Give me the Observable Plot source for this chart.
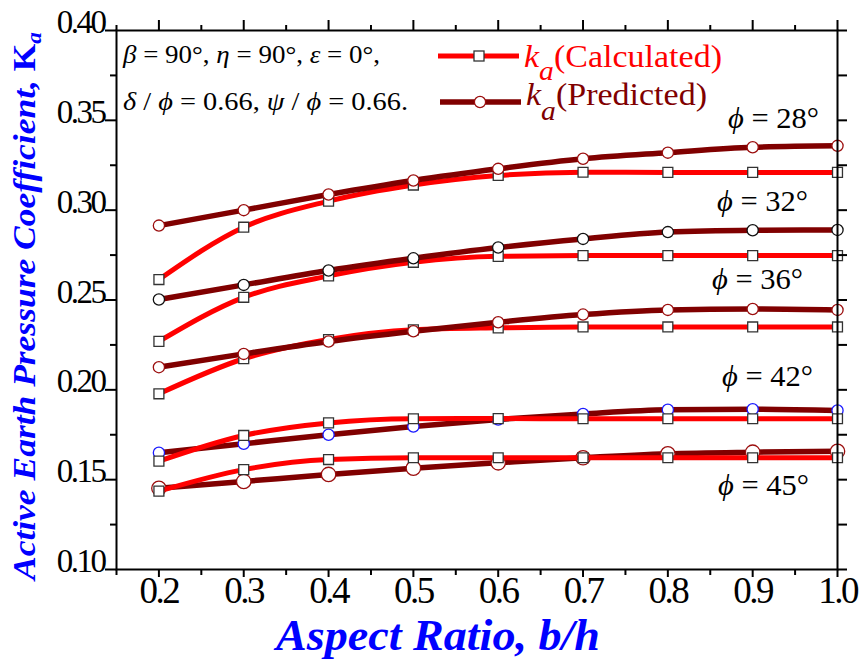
<!DOCTYPE html>
<html>
<head>
<meta charset="utf-8">
<script src="https://cdn.jsdelivr.net/npm/d3@7"></script>
<script src="https://cdn.jsdelivr.net/npm/@observablehq/plot@0.6"></script>
<style>
  html, body { margin: 0; padding: 0; background: #fff; }
  #wrap { position: relative; width: 861px; height: 668px; }
  #wrap > svg { position: absolute; left: 0; top: 0; }
  #overlay { pointer-events: none; }
</style>
</head>
<body>
<div id="wrap"></div>
<script>
// ---- data ----
const aspectRatio = [0.2, 0.3, 0.4, 0.5, 0.6, 0.7, 0.8, 0.9, 1.0];

const calc28 = [0.2614, 0.2905, 0.3050, 0.3140, 0.3193, 0.3211, 0.3210, 0.3210, 0.3210];
const pred28 = [0.2914, 0.3000, 0.3087, 0.3165, 0.3230, 0.3286, 0.3320, 0.3350, 0.3358];
const calc32 = [0.2270, 0.2515, 0.2634, 0.2710, 0.2743, 0.2747, 0.2747, 0.2747, 0.2747];
const pred32 = [0.2503, 0.2584, 0.2664, 0.2732, 0.2792, 0.2840, 0.2878, 0.2888, 0.2890];
const calc36 = [0.1978, 0.2173, 0.2280, 0.2334, 0.2345, 0.2350, 0.2350, 0.2350, 0.2350];
const pred36 = [0.2126, 0.2200, 0.2269, 0.2326, 0.2376, 0.2419, 0.2445, 0.2450, 0.2445];
const calc42 = [0.1603, 0.1746, 0.1816, 0.1839, 0.1840, 0.1839, 0.1839, 0.1839, 0.1839];
const pred42 = [0.1650, 0.1700, 0.1750, 0.1796, 0.1835, 0.1866, 0.1889, 0.1892, 0.1885];
const calc45 = [0.1436, 0.1556, 0.1612, 0.1622, 0.1622, 0.1622, 0.1622, 0.1622, 0.1622];
const pred45 = [0.1452, 0.1490, 0.1529, 0.1564, 0.1594, 0.1622, 0.1644, 0.1653, 0.1658];

const phiAngles = ["28", "32", "36", "42", "45"];

const xMajor = [0.2, 0.3, 0.4, 0.5, 0.6, 0.7, 0.8, 0.9, 1.0];
const xTickLabels = ["0.2", "0.3", "0.4", "0.5", "0.6", "0.7", "0.8", "0.9", "1.0"];
const xMinor = [0.15, 0.25, 0.35, 0.45, 0.55, 0.65, 0.75, 0.85, 0.95];
const yMajor = [0.10, 0.15, 0.20, 0.25, 0.30, 0.35, 0.40];
const yTickLabels = ["0.10", "0.15", "0.20", "0.25", "0.30", "0.35", "0.40"];
const yMinor = [0.125, 0.175, 0.225, 0.275, 0.325, 0.375];

const xTitle = "Aspect Ratio, b/h";
const yTitle = "Active Earth Pressure Coefficient, ";
const legendCalc = "(Calculated)";
const legendPred = "(Predicted)";

// ---- series (drawing order) ----
const RED = "#ff0000", DARK = "#800000";
const series = [
  {kind: "calc", values: calc28},
  {kind: "pred", values: pred28, ring: "#9b0d0d"},
  {kind: "calc", values: calc32},
  {kind: "pred", values: pred32, ring: "#111111"},
  {kind: "calc", values: calc36},
  {kind: "pred", values: pred36, ring: "#9b0d0d"},
  {kind: "pred", values: pred42, ring: "#1a1aff"},
  {kind: "calc", values: calc42},
  {kind: "pred", values: pred45, ring: "#9b0d0d", big: true},
  {kind: "calc", values: calc45}
];

const marks = [];
for (const s of series) {
  const rows = aspectRatio.map((x, i) => ({x, y: s.values[i]}));
  if (s.kind === "calc") {
    marks.push(Plot.line(rows, {x: "x", y: "y", stroke: RED, strokeWidth: 5, curve: "monotone-x"}));
    marks.push(Plot.dot(rows, {x: "x", y: "y", symbol: "square", r: 5.6, fill: "white", stroke: "#333", strokeWidth: 1.3}));
  } else {
    marks.push(Plot.line(rows, {x: "x", y: "y", stroke: DARK, strokeWidth: 5.5, curve: "monotone-x"}));
    marks.push(Plot.dot(rows, {x: "x", y: "y", symbol: "circle", r: s.big ? 7.2 : 5.6, fill: "white", stroke: s.ring, strokeWidth: 1.3}));
  }
}

const fontTick = "'Liberation Serif', 'Times New Roman', serif";

const chart = Plot.plot({
  width: 861,
  height: 668,
  marginLeft: 116,
  marginRight: 24,
  marginTop: 30,
  marginBottom: 99,
  x: {domain: [0.15, 1.0]},
  y: {domain: [0.10, 0.40]},
  style: {background: "white", color: "black"},
  marks: [
    ...marks,
    Plot.frame({stroke: "black", strokeWidth: 2}),
    // bottom
    Plot.axisX({ticks: xMajor, anchor: "bottom", tickSize: 8, strokeWidth: 2, fill: "none", label: null}),
    Plot.axisX({ticks: xMinor, anchor: "bottom", tickSize: 6, strokeWidth: 2, fill: "none", label: null}),
    Plot.axisX({ticks: xMajor, anchor: "bottom", tickSize: 0, tickPadding: 7, stroke: "none",
      tickFormat: d => xTickLabels[xMajor.indexOf(d)], fontSize: 37, fontFamily: fontTick, label: null}),
    // top
    Plot.axisX({ticks: xMajor, anchor: "top", tickSize: 11, strokeWidth: 2, fill: "none", label: null}),
    Plot.axisX({ticks: xMinor, anchor: "top", tickSize: 6, strokeWidth: 2, fill: "none", label: null}),
    // left
    Plot.axisY({ticks: yMajor, anchor: "left", tickSize: 11, strokeWidth: 2, fill: "none", label: null}),
    Plot.axisY({ticks: yMinor, anchor: "left", tickSize: 6, strokeWidth: 2, fill: "none", label: null}),
    Plot.axisY({ticks: yMajor, anchor: "left", tickSize: 0, tickPadding: 12, dy: -8, stroke: "none",
      tickFormat: d => yTickLabels[yMajor.indexOf(d)], fontSize: 33, fontFamily: fontTick, label: null}),
    // right
    Plot.axisY({ticks: yMajor, anchor: "right", tickSize: 9, strokeWidth: 2, fill: "none", label: null}),
    Plot.axisY({ticks: yMinor, anchor: "right", tickSize: 9, strokeWidth: 2, fill: "none", label: null})
  ]
});

document.getElementById("wrap").appendChild(chart);
chart.querySelectorAll('g[aria-label="x-axis tick label"], g[aria-label="y-axis tick label"]').forEach(g => {
  g.setAttribute("letter-spacing", "-2.5");
});

// ---- overlay text: titles, legend, annotations ----
const NS = "http://www.w3.org/2000/svg";
const ov = document.createElementNS(NS, "svg");
ov.setAttribute("id", "overlay");
ov.setAttribute("width", 861);
ov.setAttribute("height", 668);
ov.setAttribute("font-family", "'Liberation Serif', 'Times New Roman', serif");
document.getElementById("wrap").appendChild(ov);

function el(tag, attrs, parent = ov) {
  const e = document.createElementNS(NS, tag);
  for (const k in attrs) e.setAttribute(k, attrs[k]);
  parent.appendChild(e);
  return e;
}
function txt(s, attrs, parent = ov) {
  const e = el("text", attrs, parent);
  e.textContent = s;
  return e;
}
// parts: [string, attrs]
function rich(parts, attrs) {
  const t = el("text", attrs);
  t.setAttribute("xml:space", "preserve");
  for (const [s, a] of parts) {
    const ts = el("tspan", a || {}, t);
    ts.textContent = s;
  }
  return t;
}
const IT = {"font-style": "italic"};

// axis titles
txt(xTitle, {x: 276, y: 650, "font-size": 44, "font-weight": "bold", "font-style": "italic",
  fill: "#0000ff", textLength: 324, lengthAdjust: "spacingAndGlyphs"});
rich([[yTitle, null], ["K", {"font-style": "normal"}], ["a", {"font-size": 21, dy: 6}]],
  {transform: "translate(35,580) rotate(-90)", "font-size": 32, "font-weight": "bold",
   "font-style": "italic", fill: "#0000ff", textLength: 548, lengthAdjust: "spacingAndGlyphs"});

// parameter annotation
rich([["β", IT], [" = 90°, ", null], ["η", IT], [" = 90°, ", null], ["ε", IT], [" = 0°,", null]],
  {x: 123, y: 63, "font-size": 25, fill: "black", textLength: 257, lengthAdjust: "spacingAndGlyphs"});
rich([["δ", IT], [" / ", null], ["ϕ", IT], [" = 0.66,  ", null], ["ψ", IT], [" / ", null], ["ϕ", IT], [" = 0.66.", null]],
  {x: 123, y: 110, "font-size": 25, fill: "black", textLength: 285, lengthAdjust: "spacingAndGlyphs"});

// legend
el("line", {x1: 438, x2: 519, y1: 56, y2: 56, stroke: RED, "stroke-width": 5});
el("rect", {x: 474, y: 51, width: 10, height: 10, fill: "white", stroke: "#333", "stroke-width": 1.3});
rich([["k", IT], ["a", {"font-style": "italic", "font-size": 27, dy: 13}], [legendCalc, {dy: -13}]],
  {x: 524, y: 67, "font-size": 31, fill: RED, textLength: 198, lengthAdjust: "spacingAndGlyphs"});

el("line", {x1: 440, x2: 521, y1: 102, y2: 102, stroke: DARK, "stroke-width": 5.5});
el("circle", {cx: 480, cy: 102, r: 5.6, fill: "white", stroke: "#9b0d0d", "stroke-width": 1.3});
rich([["k", IT], ["a", {"font-style": "italic", "font-size": 27, dy: 15}], [legendPred, {dy: -15}]],
  {x: 526, y: 105, "font-size": 31, fill: DARK, textLength: 181, lengthAdjust: "spacingAndGlyphs"});

// phi labels
const phiPos = [[728, 128], [717, 211], [712, 289], [722, 386], [718, 495]];
phiAngles.forEach((a, i) => {
  rich([["ϕ", IT], [" = " + a + "°", null]],
    {x: phiPos[i][0], y: phiPos[i][1], "font-size": 30, fill: "black", textLength: 91, lengthAdjust: "spacingAndGlyphs"});
});
</script>
</body>
</html>
